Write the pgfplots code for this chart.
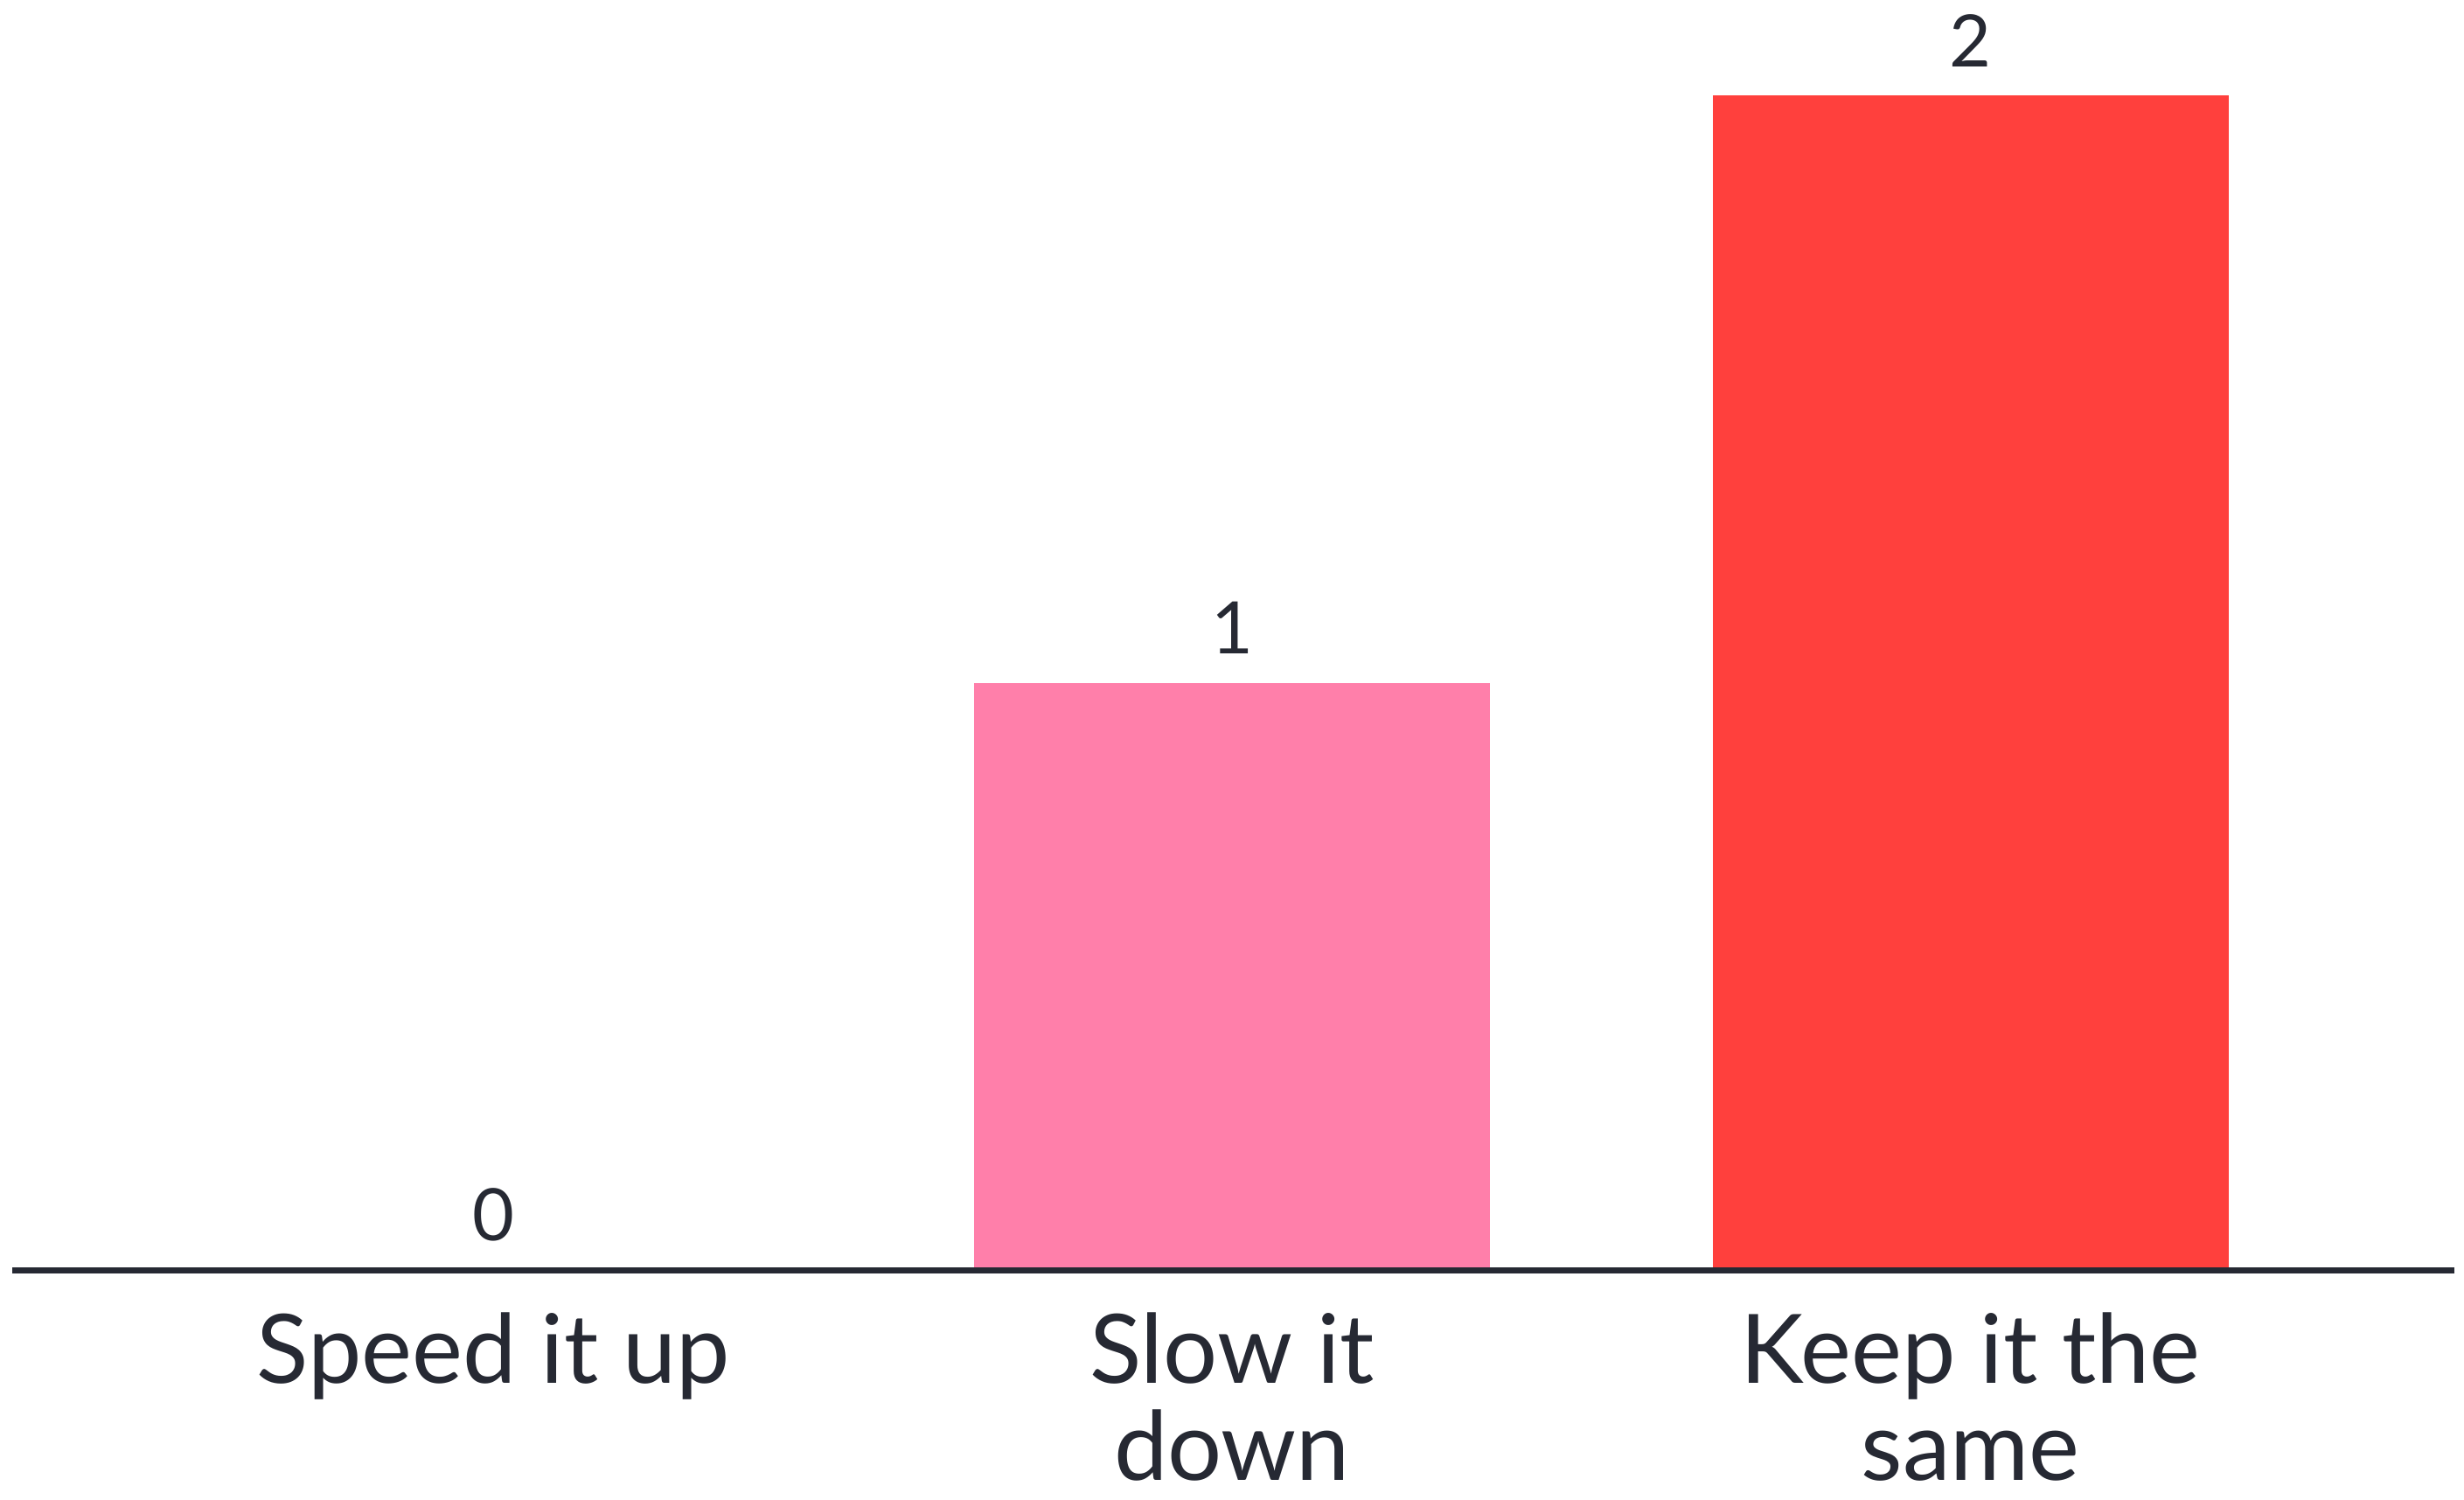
\documentclass[border=0pt]{standalone}
\usepackage{fontspec}
\setmainfont{Lato}
\usepackage{pgfplots}
\pgfplotsset{compat=1.18}
\definecolor{txt}{HTML}{262933}
\definecolor{pinkbar}{HTML}{FF7FAA}
\definecolor{redbar}{HTML}{FF403D}
\begin{document}
\begin{tikzpicture}
\begin{axis}[
  scale only axis,
  width=784pt, height=404pt,
  xmin=-0.668, xmax=2.668,
  ymin=0, ymax=2.163,
  axis line style={draw=none},
  axis x line=bottom,
  axis y line=none,
  ytick=\empty,
  xtick={0,1,2},
  xticklabels={Speed it up,{Slow it\\down},{Keep it the\\same}},
  xtick style={draw=none},
  xticklabel style={align=center, font=\fontsize{30.5}{31}\selectfont, text=txt, inner sep=0pt, anchor=north, yshift=-9pt},
  ybar, bar width=164pt, bar shift=0pt,
  /pgf/number format/assume math mode=true,
  nodes near coords,
  every node near coord/.style={font=\fontsize{23}{23}\selectfont, text=txt, inner sep=0pt, anchor=south, yshift=9pt},
  clip=false,
]
\addplot[fill=pinkbar, draw=none] coordinates {(0,0)};
\addplot[fill=pinkbar, draw=none] coordinates {(1,1)};
\addplot[fill=redbar, draw=none] coordinates {(2,2)};
\draw[txt, line width=2pt] (axis cs:-0.651,0) -- (axis cs:2.655,0);
\end{axis}
\pgfresetboundingbox
\path (current axis.south west) ++(0,-73pt) rectangle (current axis.north east);
\end{tikzpicture}
\end{document}
